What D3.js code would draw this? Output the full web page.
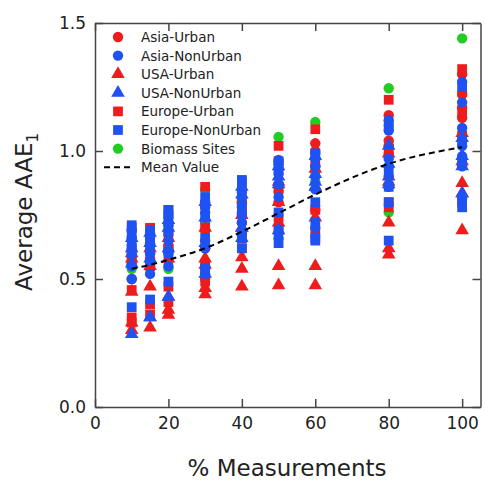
<!DOCTYPE html>
<html>
<head>
<meta charset="utf-8">
<script src="https://cdn.jsdelivr.net/npm/d3@7"></script>
<style>
body{margin:0;background:#fff;}
svg{display:block;font-family:"DejaVu Sans",sans-serif;}
</style>
</head>
<body>
<svg id="chart" width="485" height="485"></svg>
<script>
// x positions (% of measurements)
var xPct=[10,15,20,30,40,50,60,80,100];

// each inner array = one site, values at each xPct
var asiaUrban=[
	[0.50,0.55,0.57,0.50,0.69,0.80,0.77,0.99,1.13],
	[0.56,0.58,0.63,0.62,0.72,0.84,0.94,1.02,1.17],
	[0.59,0.61,0.67,0.69,0.76,0.93,1.00,1.04,1.22],
	[0.62,0.63,0.72,0.78,0.80,0.965,1.03,1.14,1.30]
];
var asiaNonUrban=[
	[0.50,0.52,0.55,0.52,0.68,0.66,0.70,0.86,0.94],
	[0.55,0.57,0.60,0.54,0.72,0.82,0.85,0.90,0.98],
	[0.60,0.60,0.65,0.62,0.75,0.87,0.90,0.94,1.02],
	[0.63,0.64,0.68,0.65,0.79,0.91,0.94,0.97,1.09],
	[0.66,0.66,0.71,0.76,0.82,0.95,0.97,1.08,1.19],
	[0.69,0.68,0.74,0.80,0.84,0.96,0.99,1.12,1.27]
];
var usaUrban=[
	[0.30,0.31,0.36,0.44,0.47,0.475,0.475,0.595,0.69],
	[0.33,0.35,0.38,0.465,0.54,0.55,0.55,0.62,0.835],
	[0.45,0.47,0.43,0.555,0.585,0.72,0.74,0.72,0.875],
	[0.58,0.55,0.58,0.58,0.70,0.80,0.86,0.88,0.96],
	[0.60,0.62,0.66,0.70,0.75,0.88,0.93,0.99,1.07]
];
var usaNonUrban=[
	[0.285,0.35,0.43,0.52,0.66,0.69,0.86,0.87,0.835],
	[0.56,0.58,0.62,0.64,0.70,0.87,0.88,0.90,0.94],
	[0.62,0.64,0.70,0.74,0.83,0.90,0.91,0.95,0.98],
	[0.66,0.68,0.73,0.80,0.86,0.94,0.98,1.02,1.05]
];
var europeUrban=[
	[0.33,0.36,0.41,0.49,0.62,0.69,0.68,0.78,0.80],
	[0.35,0.40,0.47,0.56,0.66,0.74,0.77,0.80,1.06],
	[0.457,0.55,0.62,0.70,0.78,0.86,0.95,1.01,1.15],
	[0.70,0.70,0.77,0.86,0.85,1.02,1.085,1.20,1.32]
];
var europeNonUrban=[
	[0.39,0.42,0.49,0.54,0.62,0.64,0.65,0.65,0.78],
	[0.60,0.62,0.60,0.66,0.66,0.69,0.66,0.80,0.81],
	[0.65,0.66,0.70,0.74,0.76,0.76,0.72,0.86,0.95],
	[0.71,0.69,0.77,0.82,0.887,0.93,0.80,0.92,1.04],
	[0.68,0.67,0.75,0.79,0.88,0.96,0.99,1.10,1.25]
];
var biomass=[
	[0.54,0.55,0.54,0.555,0.80,0.86,0.88,0.76,0.815],
	[0.58,0.60,0.75,0.85,0.81,1.055,1.113,1.245,1.44],
	[0.56,0.57,0.62,0.72,0.78,0.87,0.92,1.10,1.23]
];
var meanVals=[0.54,0.555,0.575,0.62,0.685,0.757,0.83,0.95,1.015];

var yTicks=[0,0.5,1.0,1.5];
var xTicks=[0,20,40,60,80,100];

var red="#ee1c1c", blue="#1f52f2", green="#22cc22";

var seriesList=[
	{name:"Asia-Urban",data:asiaUrban,shape:d3.symbolCircle,color:red,size:85},
	{name:"Asia-NonUrban",data:asiaNonUrban,shape:d3.symbolCircle,color:blue,size:85},
	{name:"USA-Urban",data:usaUrban,shape:d3.symbolTriangle,color:red,size:80},
	{name:"USA-NonUrban",data:usaNonUrban,shape:d3.symbolTriangle,color:blue,size:80},
	{name:"Europe-Urban",data:europeUrban,shape:d3.symbolSquare,color:red,size:95},
	{name:"Europe-NonUrban",data:europeNonUrban,shape:d3.symbolSquare,color:blue,size:95},
	{name:"Biomass Sites",data:biomass,shape:d3.symbolCircle,color:green,size:85}
];
// draw order: green behind, then reds, then blues
var drawOrder=[6,0,2,4,1,3,5];

var svg=d3.select("#chart");
var x=d3.scaleLinear().domain([0,105]).range([95,480.5]);
var y=d3.scaleLinear().domain([0,1.5]).range([407,23]);

// points
drawOrder.forEach(function(si){
	var s=seriesList[si];
	var pts=[];
	s.data.forEach(function(site){
		site.forEach(function(v,i){ pts.push({x:xPct[i],v:v}); });
	});
	svg.append("g").selectAll("path")
	.data(pts)
	.enter()
	.append("path")
	.attr("d",d3.symbol().type(s.shape).size(s.size))
	.attr("transform",function(d){ return "translate("+x(d.x)+","+y(d.v)+")"; })
	.style("fill",s.color);
});

// mean value curve
var meanLine=d3.line()
	.x(function(d,i){ return x(xPct[i]); })
	.y(function(d){ return y(d); })
	.curve(d3.curveMonotoneX);
svg.append("path")
	.datum(meanVals)
	.attr("d",meanLine)
	.style("fill","none")
	.style("stroke","#000")
	.style("stroke-width",2)
	.style("stroke-dasharray","6,4");

// axes, ticks inside
var axisColor="#444";
var gB=svg.append("g").attr("transform","translate(0,407)")
	.call(d3.axisBottom(x).tickValues(xTicks).tickSizeInner(-8).tickSizeOuter(0).tickPadding(10));
var gT=svg.append("g").attr("transform","translate(0,23)")
	.call(d3.axisTop(x).tickValues(xTicks).tickSizeInner(-8).tickSizeOuter(0).tickFormat(""));
var gL=svg.append("g").attr("transform","translate(95,0)")
	.call(d3.axisLeft(y).tickValues(yTicks).tickSizeInner(-8).tickSizeOuter(0).tickPadding(9).tickFormat(d3.format(".1f")));
var gR=svg.append("g").attr("transform","translate(480.5,0)")
	.call(d3.axisRight(y).tickValues(yTicks).tickSizeInner(-8).tickSizeOuter(0).tickFormat(""));
[gB,gT,gL,gR].forEach(function(g){
	g.selectAll(".domain").style("stroke",axisColor).style("stroke-width",1.5);
	g.selectAll("line").style("stroke",axisColor).style("stroke-width",1.5);
	g.selectAll("text").style("font-family","DejaVu Sans, sans-serif").style("font-size","17px").style("fill","#222");
});

// axis titles
svg.append("text")
	.attr("x",287).attr("y",476)
	.attr("text-anchor","middle")
	.style("font-size","23px").style("fill","#222")
	.text("% Measurements");
var yt=svg.append("text")
	.attr("transform","translate(32,212) rotate(-90)")
	.attr("text-anchor","middle")
	.style("font-size","23px").style("fill","#222");
yt.append("tspan").text("Average AAE");
yt.append("tspan").attr("dy",6).style("font-size","15px").text("1");

// legend
var legend=svg.append("g");
seriesList.forEach(function(s,i){
	var ly=37+i*18.6;
	legend.append("path")
		.attr("d",d3.symbol().type(s.shape).size(s.size))
		.attr("transform","translate(118,"+ly+")")
		.style("fill",s.color);
	legend.append("text")
		.attr("x",141).attr("y",ly+5)
		.style("font-size","13.5px").style("fill","#222")
		.text(s.name);
});
var my=37+7*18.6;
legend.append("line")
	.attr("x1",104).attr("x2",132).attr("y1",my).attr("y2",my)
	.style("stroke","#000").style("stroke-width",2).style("stroke-dasharray","6,4");
legend.append("text")
	.attr("x",141).attr("y",my+5)
	.style("font-size","13.5px").style("fill","#222")
	.text("Mean Value");
</script>
</body>
</html>
